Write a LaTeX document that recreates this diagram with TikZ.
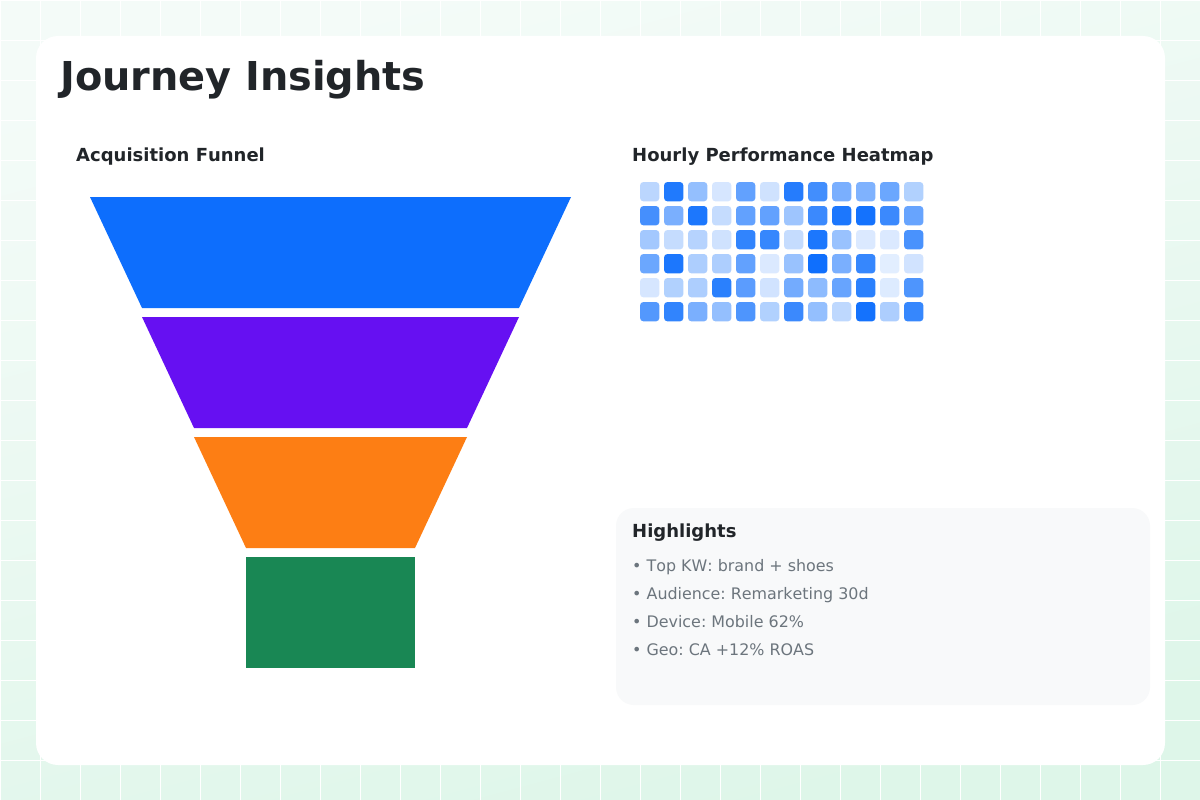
\documentclass[tikz,border=0pt]{standalone}
\usepackage{xcolor}
\usepackage{fontspec}
\setmainfont[Kerning=Off]{DejaVu Sans}
\frenchspacing
\definecolor{inkdark}{HTML}{212529}
\definecolor{inkgray}{HTML}{6C757D}
\definecolor{panelgray}{HTML}{F8F9FA}
\definecolor{heatblue}{HTML}{0D6EFD}
\definecolor{funnelblue}{HTML}{0D6EFD}
\definecolor{funnelpurple}{HTML}{6610F2}
\definecolor{funnelorange}{HTML}{FD7E14}
\definecolor{funnelgreen}{HTML}{198754}
\definecolor{bgtop}{HTML}{F4FBF8}
\definecolor{bgbottom}{HTML}{DEF6E9}
\tikzset{
    heading/.style={anchor=base west, inner sep=0pt, text=inkdark, font=\fontsize{18}{22}\selectfont\bfseries},
    bullet/.style={anchor=base west, inner sep=0pt, text=inkgray, font=\fontsize{15.9}{19}\selectfont},
}

\begin{document}
\begin{tikzpicture}[x=1pt, y=-1pt]
    \useasboundingbox (0,0) rectangle (1200,800);
    % backdrop
    \shade[top color=bgtop, bottom color=bgbottom, shading angle=15] (0,0) rectangle (1200,800);
    \foreach \x in {0,40,...,1200} {
        \draw[white, line width=1pt] (\x+0.5,0) -- (\x+0.5,800);
    }
    \foreach \y in {0,40,...,800} {
        \draw[white, line width=1pt] (0,\y+0.5) -- (1200,\y+0.5);
    }
    % card and highlights panel
    \fill[white, rounded corners=22pt] (36,36) rectangle (1165,765);
    \fill[panelgray, rounded corners=18pt] (616,508) rectangle (1150,705);
    \node[anchor=base west, inner sep=0pt, text=inkdark, font=\fontsize{39.8}{48}\selectfont\bfseries] (title) at (60,91) {Journey Insights};
    \node[heading] (funnelhead) at (76,161) {Acquisition Funnel};
    \node[heading] (heathead) at (632,161) {Hourly Performance Heatmap};
    % funnel: top width, bottom width
    \fill[funnelblue] (90,197) -- (571,197) -- (519,308) -- (142,308) -- cycle;
    \fill[funnelpurple] (142,317) -- (519,317) -- (467,428) -- (194,428) -- cycle;
    \fill[funnelorange] (194,437) -- (467,437) -- (415,548) -- (246,548) -- cycle;
    \fill[funnelgreen] (246,557) rectangle (415,668);
    % heatmap: row/values
    \foreach \r/\vals in {
        0/{28,92,44,17,65,20,90,78,55,53,61,32},
        1/{77,55,94,24,65,65,40,81,94,97,81,63},
        2/{38,24,30,20,85,83,24,94,42,15,15,75},
        3/{61,94,34,34,65,15,42,99,55,83,12,19},
        4/{17,32,34,88,68,19,58,47,63,88,14,73},
        5/{71,85,55,44,73,32,81,44,27,97,34,83}} {
        \foreach \v [count=\c from 0] in \vals {
            \fill[heatblue!\v!white, rounded corners=3.5pt]
                (640+24*\c,182+24*\r) rectangle ++(19.4,19.4);
        }
    }
    % highlights
    \node[heading] (highhead) at (632,537) {Highlights};
    \foreach \y/\t [count=\i] in {571/Top KW: brand + shoes, 599/Audience: Remarketing 30d,
                                  627/Device: Mobile 62\%, 655/Geo: CA +12\% ROAS} {
        \node[bullet] (item\i) at (632,\y) {• \t};
    }
\end{tikzpicture}
\end{document}
